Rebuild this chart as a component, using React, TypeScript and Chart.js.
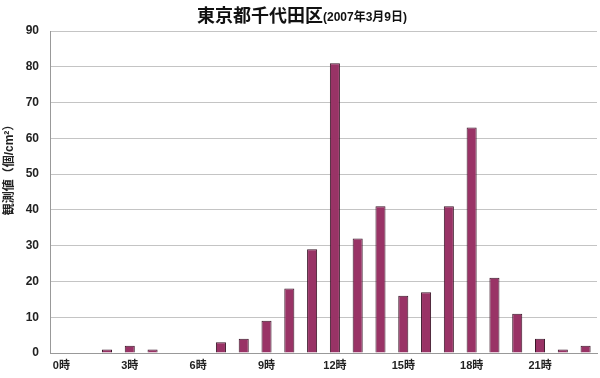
import React, { useEffect, useRef } from "react";
import { Chart, registerables } from "chart.js";

Chart.register(...registerables);

const hours: string[] = Array.from({ length: 24 }, (_, i) => `${i}時`);
const values: number[] = [0, 0, 1, 2, 1, 0, 0, 3, 4, 9, 18, 29, 81, 32, 41, 16, 17, 41, 63, 21, 11, 4, 1, 2];
const titleMain = "東京都千代田区";
const titleSub = "(2007年3月9日)";
const yTitle = "観測値（個/cm²）";

const FONT = "'Liberation Sans', 'Noto Sans CJK JP', sans-serif";

const titlePlugin = {
  id: "mixedTitle",
  afterDraw(chart: any) {
    const ctx = chart.ctx as CanvasRenderingContext2D;
    ctx.save();
    ctx.fillStyle = "#111";
    ctx.textBaseline = "alphabetic";
    ctx.font = `bold 18px ${FONT}`;
    const w1 = ctx.measureText(titleMain).width;
    ctx.font = `bold 12px ${FONT}`;
    const w2 = ctx.measureText(titleSub).width;
    const start = 302 - (w1 + w2) / 2;
    ctx.font = `bold 18px ${FONT}`;
    ctx.fillText(titleMain, start, 22);
    ctx.font = `bold 12px ${FONT}`;
    ctx.fillText(titleSub, start + w1, 21);
    // y-axis title
    ctx.translate(10, 167);
    ctx.rotate(-Math.PI / 2);
    ctx.textAlign = "center";
    ctx.textBaseline = "middle";
    ctx.fillStyle = "#222";
    ctx.font = `bold 12px ${FONT}`;
    ctx.fillText(yTitle, 0, 0);
    ctx.restore();
  },
};

export default function App() {
  const ref = useRef<HTMLCanvasElement>(null);
  useEffect(() => {
    document.body.style.margin = "0";
    const chart = new Chart(ref.current!, {
      type: "bar",
      data: {
        labels: hours,
        datasets: [
          {
            data: values,
            backgroundColor: "#993366",
            borderColor: "#3a1628",
            borderWidth: 1,
            barPercentage: 0.49,
            categoryPercentage: 0.9,
          },
        ],
      },
      plugins: [titlePlugin],
      options: {
        animation: false,
        responsive: false,
        maintainAspectRatio: false,
        layout: { padding: { top: 31, right: 3, left: 0, bottom: 0 } },
        plugins: { legend: { display: false }, tooltip: { enabled: false }, title: { display: false } },
        scales: {
          x: {
            grid: { display: false, drawTicks: false },
            border: { color: "#999" },
            ticks: {
              autoSkip: false,
              maxRotation: 0,
              color: "#222",
              font: { family: FONT, size: 11, weight: "bold" },
              padding: 6,
              callback: (_v: any, i: number) => (i % 3 === 0 ? hours[i] : ""),
            },
            afterFit: (s: any) => {
              s.height = 25;
            },
          },
          y: {
            min: 0,
            max: 90,
            ticks: {
              stepSize: 10,
              color: "#222",
              font: { family: FONT, size: 12, weight: "bold" },
              padding: 11,
            },
            grid: { color: "#c4c4c4", drawTicks: false },
            border: { color: "#999" },
            afterFit: (s: any) => {
              s.width = 50;
            },
          },
        },
      },
    });
    return () => chart.destroy();
  }, []);
  return (
    <div style={{ position: "absolute", left: 0, top: 0, width: 600, height: 378 }}>
      <canvas ref={ref} width={600} height={378} style={{ width: 600, height: 378 }} />
    </div>
  );
}
